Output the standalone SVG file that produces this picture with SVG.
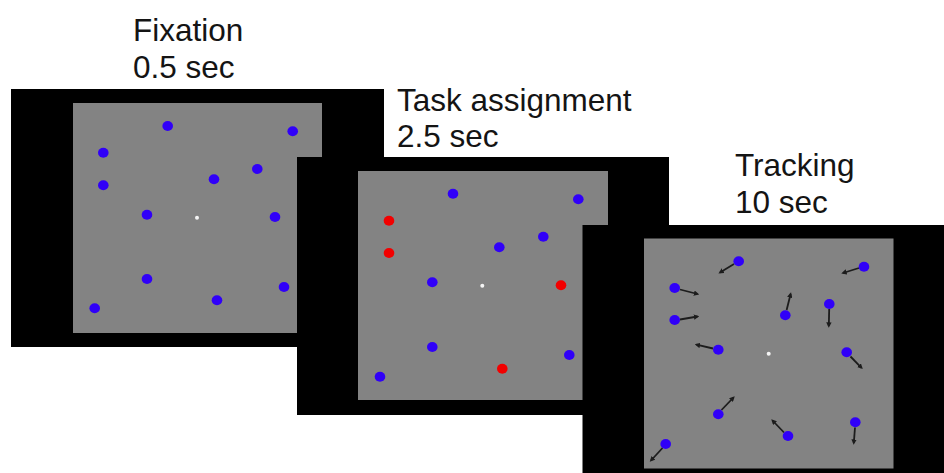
<svg xmlns="http://www.w3.org/2000/svg" width="944" height="473" viewBox="0 0 944 473">
<style>
.lbl{font-family:"Liberation Sans",Arial,sans-serif;font-size:31.5px;fill:#141414}
.bk{fill:#000}
.gr{fill:#838383}
.b{fill:#3000f8}
.r{fill:#f20000}
.w{fill:#f4f4f4}
.mv{stroke:#1c1c1c;stroke-width:1.8;fill:none;marker-end:url(#ah)}
</style>
<defs>
<marker id="ah" viewBox="0 0 6 6" refX="4" refY="3" markerWidth="3" markerHeight="3" orient="auto" markerUnits="strokeWidth">
<path d="M0,0 L6,3 L0,6 Z" fill="#1c1c1c"/>
</marker>
</defs>
<rect width="944" height="473" fill="#fff"/>

<g id="fixation">
<text class="lbl" x="133" y="41">Fixation</text>
<text class="lbl" x="133" y="77.5">0.5 sec</text>
<rect class="bk" x="11" y="89" width="373" height="258"/>
<rect class="gr" x="73" y="103" width="249" height="230"/>
<ellipse class="b" cx="167.7" cy="126" rx="5.3" ry="5"/>
<ellipse class="b" cx="292.7" cy="131.3" rx="5.3" ry="5"/>
<ellipse class="b" cx="103.3" cy="152.7" rx="5.3" ry="5"/>
<ellipse class="b" cx="257.3" cy="169" rx="5.3" ry="5"/>
<ellipse class="b" cx="214" cy="179.3" rx="5.3" ry="5"/>
<ellipse class="b" cx="103.3" cy="185.3" rx="5.3" ry="5"/>
<ellipse class="b" cx="147" cy="214.7" rx="5.3" ry="5"/>
<circle class="w" cx="197" cy="217.7" r="2"/>
<ellipse class="b" cx="275" cy="217" rx="5.3" ry="5"/>
<ellipse class="b" cx="147" cy="279" rx="5.3" ry="5"/>
<ellipse class="b" cx="284" cy="287" rx="5.3" ry="5"/>
<ellipse class="b" cx="217" cy="300.3" rx="5.3" ry="5"/>
<ellipse class="b" cx="94.7" cy="308.3" rx="5.3" ry="5"/>
</g>

<g id="task-assignment">
<text class="lbl" x="397" y="111">Task assignment</text>
<text class="lbl" x="397" y="146.7">2.5 sec</text>
<rect class="bk" x="297" y="157" width="372" height="258"/>
<rect class="gr" x="358" y="171" width="250" height="229"/>
<ellipse class="b" cx="453" cy="193.7" rx="5.3" ry="5"/>
<ellipse class="b" cx="578.3" cy="199.3" rx="5.3" ry="5"/>
<ellipse class="r" cx="389" cy="220.7" rx="5.3" ry="5"/>
<ellipse class="b" cx="543.3" cy="236.7" rx="5.3" ry="5"/>
<ellipse class="b" cx="499.3" cy="247.3" rx="5.3" ry="5"/>
<ellipse class="r" cx="389" cy="253" rx="5.3" ry="5"/>
<ellipse class="b" cx="432.3" cy="282.3" rx="5.3" ry="5"/>
<circle class="w" cx="482.3" cy="285.7" r="2"/>
<ellipse class="r" cx="561" cy="285.3" rx="5.3" ry="5"/>
<ellipse class="b" cx="432.3" cy="347" rx="5.3" ry="5"/>
<ellipse class="b" cx="569.3" cy="355" rx="5.3" ry="5"/>
<ellipse class="r" cx="502.3" cy="368.7" rx="5.3" ry="5"/>
<ellipse class="b" cx="380" cy="376.7" rx="5.3" ry="5"/>
</g>

<g id="tracking">
<text class="lbl" x="735" y="176">Tracking</text>
<text class="lbl" x="735" y="212.7">10 sec</text>
<rect class="bk" x="582.5" y="225" width="361.5" height="248"/>
<rect class="gr" x="644" y="238.5" width="249.5" height="230"/>
<circle class="w" cx="768.7" cy="353.7" r="2"/>
<g id="motion-arrows">
<line class="mv" x1="734" y1="264" x2="720" y2="272.5"/>
<line class="mv" x1="859" y1="268" x2="843" y2="273"/>
<line class="mv" x1="680" y1="289.5" x2="697.5" y2="294"/>
<line class="mv" x1="829.2" y1="309" x2="828.8" y2="326"/>
<line class="mv" x1="786.6" y1="310" x2="790.6" y2="294"/>
<line class="mv" x1="680" y1="319.5" x2="697.5" y2="316.5"/>
<line class="mv" x1="713" y1="348.5" x2="696.5" y2="344.7"/>
<line class="mv" x1="850.5" y1="356.5" x2="861.5" y2="367.8"/>
<line class="mv" x1="721.5" y1="410" x2="733.5" y2="397.5"/>
<line class="mv" x1="855" y1="427.5" x2="853.8" y2="443"/>
<line class="mv" x1="784" y1="432.5" x2="772.5" y2="420.5"/>
<line class="mv" x1="662.5" y1="448" x2="651" y2="460.5"/>
</g>
<ellipse class="b" cx="738.7" cy="261.3" rx="5.3" ry="5"/>
<ellipse class="b" cx="864" cy="266.7" rx="5.3" ry="5"/>
<ellipse class="b" cx="674.7" cy="288" rx="5.3" ry="5"/>
<ellipse class="b" cx="829.3" cy="304" rx="5.3" ry="5"/>
<ellipse class="b" cx="785.3" cy="315.3" rx="5.3" ry="5"/>
<ellipse class="b" cx="674.7" cy="320" rx="5.3" ry="5"/>
<ellipse class="b" cx="718.3" cy="349.7" rx="5.3" ry="5"/>
<ellipse class="b" cx="846.7" cy="352.3" rx="5.3" ry="5"/>
<ellipse class="b" cx="718.3" cy="414.3" rx="5.3" ry="5"/>
<ellipse class="b" cx="855.3" cy="422.3" rx="5.3" ry="5"/>
<ellipse class="b" cx="788" cy="436" rx="5.3" ry="5"/>
<ellipse class="b" cx="665.7" cy="444" rx="5.3" ry="5"/>
</g>
</svg>
